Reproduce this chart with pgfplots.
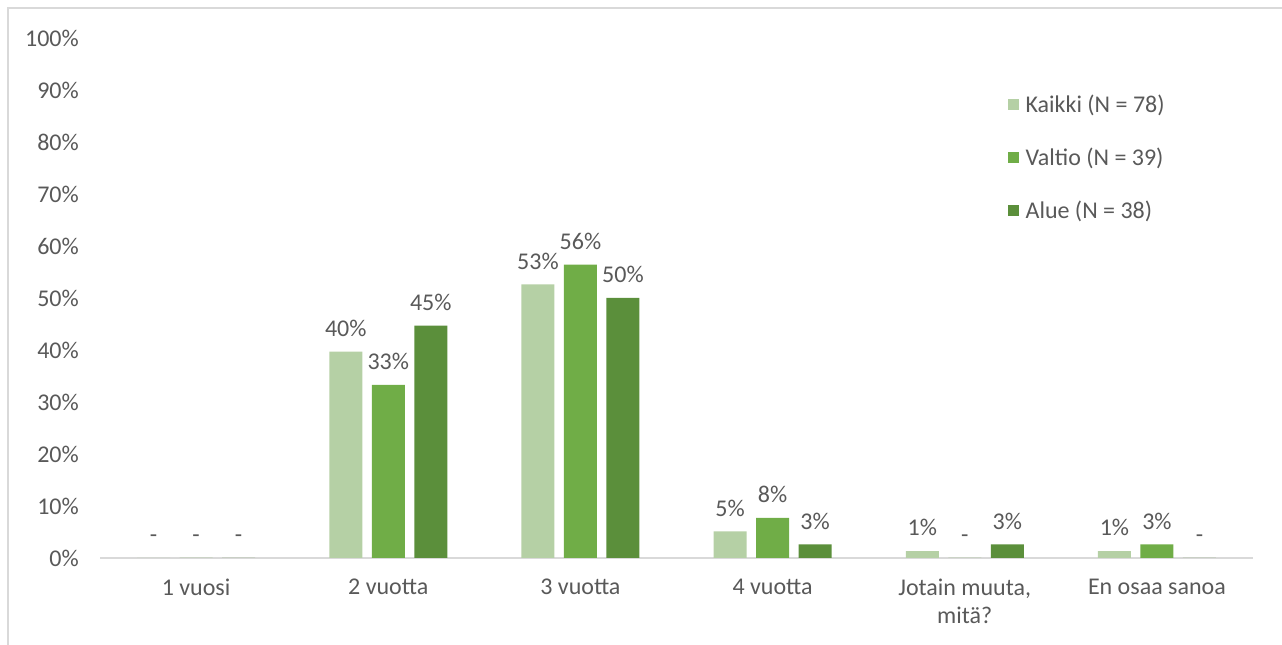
\documentclass[border=0pt]{standalone}
\usepackage{fontspec}
\setmainfont{Carlito}
\usepackage{pgfplots}
\pgfplotsset{compat=1.18}
\definecolor{txt}{HTML}{595959}
\definecolor{cA}{HTML}{B5D0A5}
\definecolor{cB}{HTML}{70AD47}
\definecolor{cC}{HTML}{5B8F3B}
\definecolor{frame}{HTML}{D9D9D9}
\newcommand\fsz{\fontsize{24bp}{28bp}\selectfont}
\begin{document}
\begin{tikzpicture}[x=1bp,y=1bp]
\useasboundingbox (0,0) rectangle (1282,645);
\draw[color=frame, line width=1.2bp] (8,-10) -- (8,637) -- (1300,637);
\begin{axis}[
  at={(100bp,87bp)}, anchor=south west, scale only axis,
  width=1153bp, height=520bp,
  ymin=0, ymax=100, xmin=-0.5, xmax=5.5,
  ybar=9.5bp, bar width=33bp,
  /pgf/number format/assume math mode=true,
  ytick={0,10,...,100},
  yticklabel={\pgfmathprintnumber{\tick}\%},
  xtick={0,...,5},
  xticklabels={1 vuosi, 2 vuotta, 3 vuotta, 4 vuotta, {Jotain muuta,\\mitä?}, En osaa sanoa},
  major tick length=0pt,
  axis x line*=bottom, axis y line*=left,
  x axis line style={draw=frame, line width=1.2bp, -},
  y axis line style={draw=none},
  tick label style={font=\fsz, text=txt},
  xticklabel style={align=center, inner sep=0pt, yshift=-21bp},
  yticklabel style={inner sep=0pt, xshift=-21bp},
  nodes near coords,
  point meta=explicit symbolic,
  nodes near coords style={font=\fsz, text=txt, anchor=south, inner sep=0pt, yshift=15bp},
  legend style={at={(0.787,0.895)}, anchor=north west, draw=none, fill=none,
    font=\fsz, text=txt, row sep=30bp, inner sep=0pt,
    /tikz/every odd column/.append style={column sep=5bp}},
  legend cell align=left,
  leg/.style={legend image code/.code={\fill[##1] (0bp,-5.5bp) rectangle (11bp,5.5bp);}},
]
\addplot[fill=cA, draw=none, leg] coordinates {(0,0) [-] (1,39.7) [40\%] (2,52.6) [53\%] (3,5.1) [5\%] (4,1.3) [1\%] (5,1.3) [1\%]};
\addlegendentry{Kaikki (N = 78)}
\addplot[fill=cB, draw=none, leg] coordinates {(0,0) [-] (1,33.3) [33\%] (2,56.4) [56\%] (3,7.7) [8\%] (4,0) [-] (5,2.6) [3\%]};
\addlegendentry{Valtio (N = 39)}
\addplot[fill=cC, draw=none, leg] coordinates {(0,0) [-] (1,44.7) [45\%] (2,50.0) [50\%] (3,2.6) [3\%] (4,2.6) [3\%] (5,0) [-]};
\addlegendentry{Alue (N = 38)}
\end{axis}
\end{tikzpicture}
\end{document}
